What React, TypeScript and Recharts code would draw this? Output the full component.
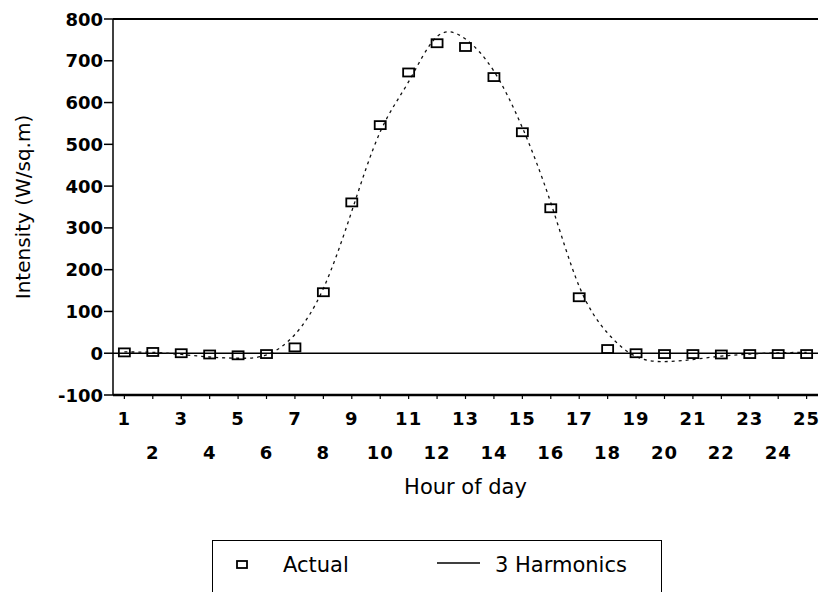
import React from 'react';
import { ComposedChart, Line, XAxis, YAxis, ReferenceLine } from 'recharts';

const hours = [1, 2, 3, 4, 5, 6, 7, 8, 9, 10, 11, 12, 13, 14, 15, 16, 17, 18, 19, 20, 21, 22, 23, 24, 25];
const actual = [2, 3, 0, -3, -5, -2, 14, 146, 361, 546, 672, 742, 733, 661, 529, 347, 134, 10, 0, -2, -2, -3, -2, -2, -2];
const harmonics = [3, 2, -3, -9, -12, -4, 45, 155, 340, 530, 650, 758, 752, 675, 540, 360, 160, 48, -8, -20, -15, -7, -2, 1, 2];
const yTicks = [-100, 0, 100, 200, 300, 400, 500, 600, 700, 800];

const data = hours.map((h, i) => ({ hour: h, actual: actual[i], harmonics: harmonics[i] }));

const FONT = '"DejaVu Sans", sans-serif';

const XTick = (props: any) => {
  const { x, y, payload } = props;
  const v = payload.value as number;
  const odd = v % 2 === 1;
  return (
    <text x={x} y={y + (odd ? 19 : 53)} textAnchor="middle" dominantBaseline="central"
      fontFamily={FONT} fontSize={18} fontWeight="bold" letterSpacing={1} fill="#000">
      {v}
    </text>
  );
};

const YTick = (props: any) => {
  const { x, y, payload } = props;
  return (
    <text x={x - 1} y={y} textAnchor="end" dominantBaseline="central"
      fontFamily={FONT} fontSize={18} fontWeight="bold" fill="#000">
      {payload.value}
    </text>
  );
};

const SquareDot = (props: any) => {
  const { cx, cy, index } = props;
  if (cx == null || cy == null) return <g key={index} />;
  return <rect key={index} x={cx - 5.5} y={cy - 4} width={11} height={8} fill="none" stroke="#000" strokeWidth={1.8} />;
};

export default function App() {
  return (
    <div style={{ position: 'absolute', left: 0, top: 0, width: 820, height: 592, background: '#fff' }}>
      <ComposedChart width={820} height={592} data={data} margin={{ top: 19, right: 2, left: 0, bottom: 0 }}>
        <XAxis
          dataKey="hour"
          type="number"
          domain={[0.6, 25.4]}
          ticks={hours}
          interval={0}
          height={197}
          tickSize={4}
          tickMargin={0}
          tick={<XTick />}
          tickLine={{ stroke: '#000', strokeWidth: 1.2 }}
          axisLine={{ stroke: '#000', strokeWidth: 2.5 }}
          label={{
            value: 'Hour of day',
            content: (p: any) => {
              const vb = p.viewBox || { x: 113, y: 395, width: 705 };
              return (
                <text x={vb.x + vb.width / 2} y={vb.y + 99} textAnchor="middle"
                  fontFamily={FONT} fontSize={21} fill="#000">Hour of day</text>
              );
            },
          }}
        />
        <YAxis
          type="number"
          domain={[-100, 800]}
          ticks={yTicks}
          interval={0}
          width={113}
          tickSize={9}
          tickMargin={0}
          tick={<YTick />}
          tickLine={{ stroke: '#000', strokeWidth: 1.5 }}
          axisLine={{ stroke: '#000', strokeWidth: 1.5 }}
          label={{
            value: 'Intensity (W/sq.m)',
            content: (p: any) => {
              const vb = p.viewBox || { x: 0, y: 19, height: 376 };
              const cy = vb.y + vb.height / 2;
              return (
                <text x={23} y={cy} transform={`rotate(-90, 23, ${cy})`} textAnchor="middle"
                  dominantBaseline="central" fontFamily={FONT} fontSize={20} fill="#000">
                  Intensity (W/sq.m)
                </text>
              );
            },
          }}
        />
        <ReferenceLine y={800} stroke="#000" strokeWidth={2} ifOverflow="visible" />
        <ReferenceLine y={0} stroke="#000" strokeWidth={1.5} />
        <Line
          dataKey="harmonics"
          type="natural"
          stroke="#111"
          strokeWidth={1.3}
          strokeDasharray="3 4"
          dot={false}
          activeDot={false}
          isAnimationActive={false}
        />
        <Line
          dataKey="actual"
          stroke="none"
          dot={<SquareDot />}
          activeDot={false}
          isAnimationActive={false}
        />
      </ComposedChart>
      <div style={{ position: 'absolute', left: 212, top: 540, width: 450, height: 70, border: '1.5px solid #000', boxSizing: 'border-box', fontFamily: FONT, fontSize: 21, color: '#000' }}>
        <svg width={450} height={60} style={{ position: 'absolute', left: 0, top: 0 }}>
          <rect x={24} y={20} width={10} height={7} fill="none" stroke="#000" strokeWidth={1.8} />
          <text x={70} y={31} fontFamily={FONT} fontSize={21} fill="#000">Actual</text>
          <line x1={224} x2={267} y1={22} y2={22} stroke="#000" strokeWidth={1.5} />
          <text x={282} y={31} fontFamily={FONT} fontSize={21} fill="#000">3 Harmonics</text>
        </svg>
      </div>
    </div>
  );
}
